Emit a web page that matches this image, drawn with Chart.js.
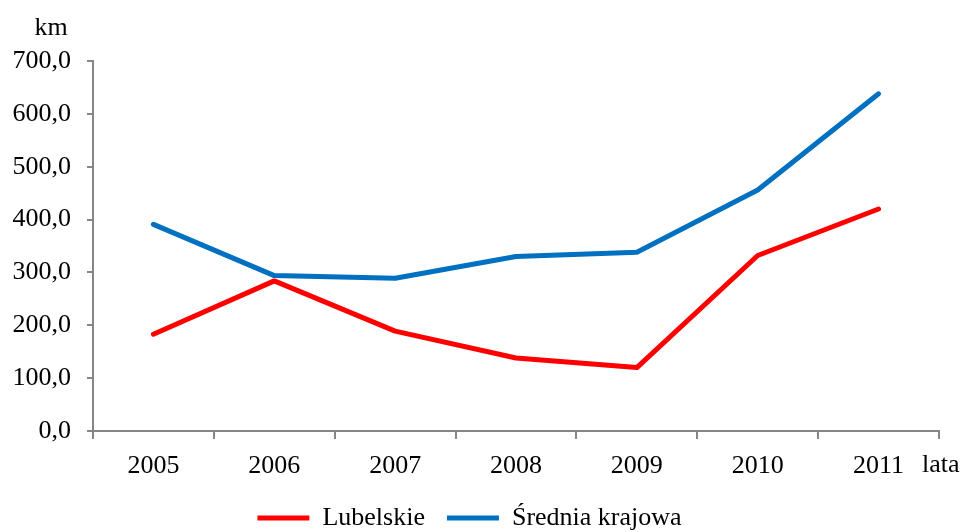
<!DOCTYPE html>
<html>
<head>
<meta charset="utf-8">
<script src="https://cdn.jsdelivr.net/npm/chart.js@4/dist/chart.umd.min.js"></script>
<style>
html,body{margin:0;padding:0;background:#fff;}
#wrap{width:964px;height:532px;position:relative;}
</style>
</head>
<body>
<div id="wrap"><canvas id="c" width="964" height="532"></canvas></div>
<script>
const categories = ['2005','2006','2007','2008','2009','2010','2011'];
const lubelskie = [183, 284, 189, 138, 120, 332, 420];
const sredniaKrajowa = [391, 294, 289, 330, 338, 456, 638];
const seriesNames = ['Lubelskie', 'Średnia krajowa'];
const yUnit = 'km';
const xUnit = 'lata';

const FONT = "'Liberation Serif', 'Times New Roman', serif";
const FS = 26;
const AXIS = '#868686';

const unitLabels = {
  id: 'unitLabels',
  afterDraw(chart) {
    const ctx = chart.ctx;
    const ya = chart.scales.y, xa = chart.scales.x;
    ctx.save();
    ctx.fillStyle = '#000';
    ctx.font = FS + 'px ' + FONT;
    ctx.textBaseline = 'middle';
    ctx.textAlign = 'center';
    ctx.fillText(yUnit, 51, ya.top - 33);
    ctx.textAlign = 'left';
    ctx.fillText(xUnit, xa.right - 17, ya.bottom + 34);
    ctx.restore();
  }
};

new Chart(document.getElementById('c'), {
  type: 'line',
  data: {
    labels: categories,
    datasets: [
      {label: seriesNames[0], data: lubelskie, borderColor: '#FF0000', backgroundColor: '#FF0000',
       borderWidth: 5, pointRadius: 0, pointHoverRadius: 0, tension: 0, borderCapStyle: 'round', borderJoinStyle: 'round'},
      {label: seriesNames[1], data: sredniaKrajowa, borderColor: '#0070C0', backgroundColor: '#0070C0',
       borderWidth: 5, pointRadius: 0, pointHoverRadius: 0, tension: 0, borderCapStyle: 'round', borderJoinStyle: 'round'}
    ]
  },
  options: {
    responsive: false,
    animation: false,
    devicePixelRatio: 1,
    layout: {padding: {left: 0, right: 25, top: 61, bottom: -9}},
    plugins: {
      tooltip: {enabled: false},
      legend: {
        position: 'bottom',
        labels: {
          usePointStyle: true,
          pointStyle: 'line',
          pointStyleWidth: 52,
          boxHeight: 8,
          padding: 22,
          color: '#000',
          font: {family: FONT, size: FS}
        }
      }
    },
    scales: {
      x: {
        offset: true,
        grid: {display: true, offset: true, drawOnChartArea: false, drawTicks: true, tickLength: 8, color: AXIS, lineWidth: 2},
        border: {display: true, color: AXIS, width: 2},
        ticks: {color: '#000', font: {family: FONT, size: FS}, padding: 12, maxRotation: 0, autoSkip: false},
        afterFit(scale) { scale.height = 52; }
      },
      y: {
        min: 0, max: 700,
        grid: {display: true, drawOnChartArea: false, drawTicks: true, tickLength: 6, color: AXIS, lineWidth: 2},
        border: {display: true, color: AXIS, width: 2},
        ticks: {stepSize: 100, color: '#000', font: {family: FONT, size: FS}, padding: 16,
          callback: v => v.toFixed(1).replace('.', ',')},
        afterFit(scale) { scale.width = 93; }
      }
    }
  },
  plugins: [unitLabels]
});
</script>
</body>
</html>
